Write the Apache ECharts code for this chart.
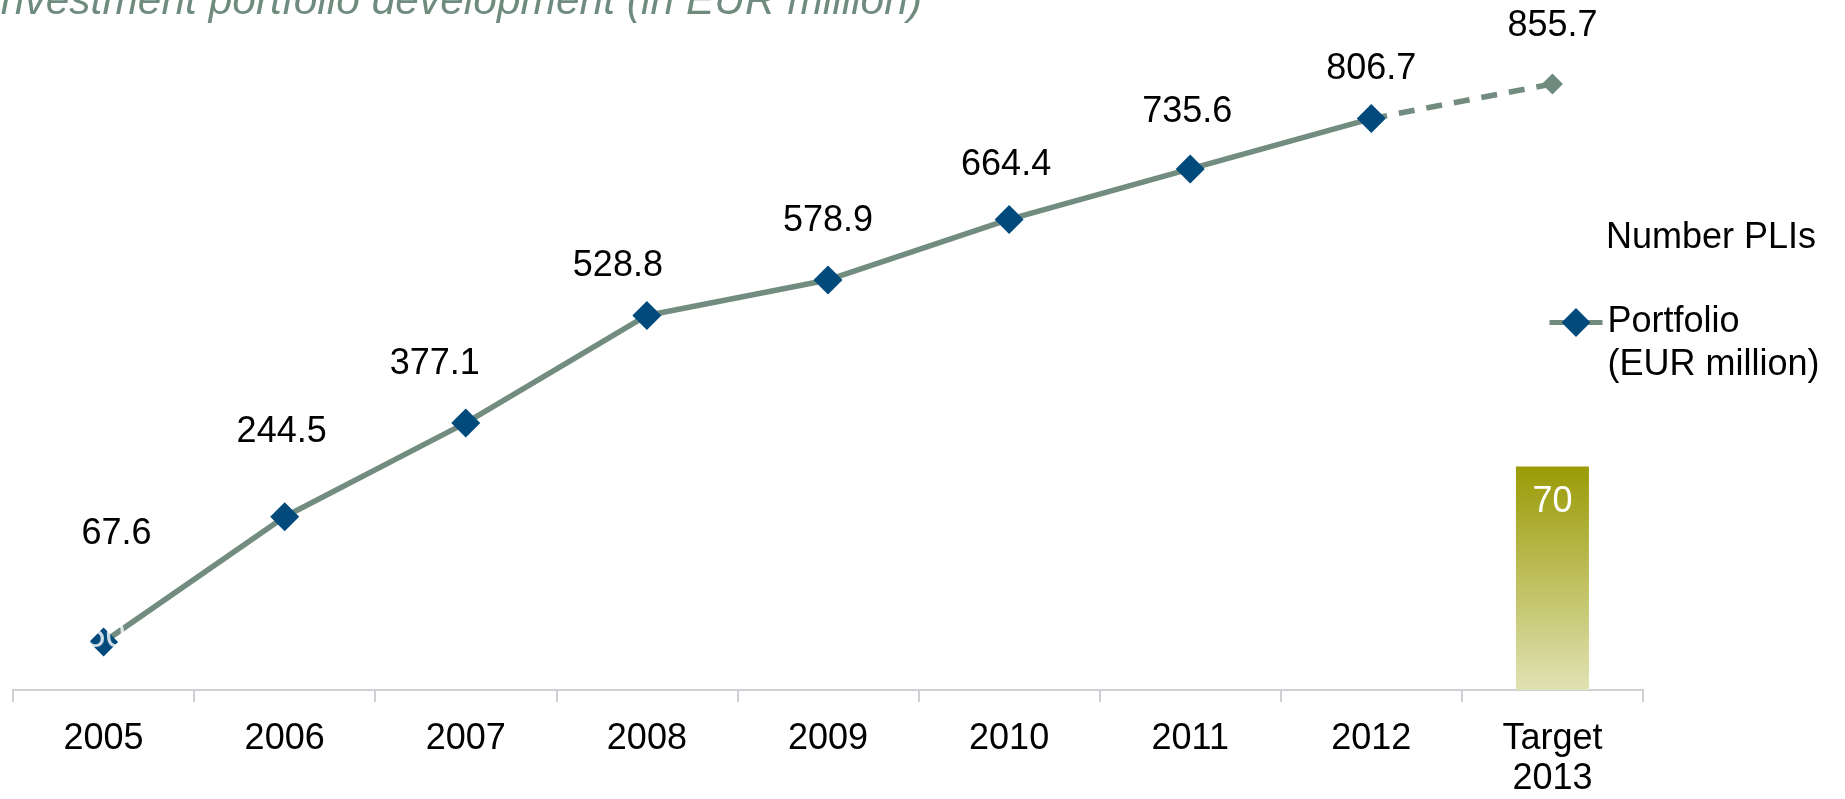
<!DOCTYPE html>
<html>
<head>
<meta charset="utf-8">
<script src="https://cdn.jsdelivr.net/npm/echarts@6/dist/echarts.min.js"></script>
<style>
  html, body { margin: 0; padding: 0; background: #fff; }
  #chart { width: 1845px; height: 799px; }
</style>
</head>
<body>
<div id="chart"></div>
<script>
// categories and values
var years = ['2005', '2006', '2007', '2008', '2009', '2010', '2011', '2012', 'Target\n2013']
var portfolio = [67.6, 244.5, 377.1, 528.8, 578.9, 664.4, 735.6, 806.7, 855.7]
var plis = [50, null, null, null, null, null, null, null, 70]

// label nudges (px) so the numbers sit where the original puts them
var labelShift = [[13, -108], [-3, -85], [-31, -59], [-29, -49], [0, -59], [-3, -54], [-3, -57], [0, -50], [0, -58]]

var FONT = "'Liberation Sans', Arial, sans-serif"
var lineColor = '#728c80'
var markColor = '#004a7c'
var last = years.length - 1

// solid part 2005-2012
var solidData = portfolio.map(function (v, i) {
  if (i === last) return '-'
  return { value: v, label: { offset: labelShift[i] } }
})
// dashed part 2012 -> target
var dashData = portfolio.map(function (v, i) {
  if (i < last - 1) return '-'
  if (i === last - 1) return { value: v, symbol: 'none', label: { show: false } }
  return { value: v, label: { offset: labelShift[i] } }
})
var barData = plis.map(function (v, i) {
  return i === last ? v : '-'
})
// the stray white "50" that sits on the first marker
var strayData = portfolio.map(function (v, i) {
  return i === 0 ? v : '-'
})

var option = {
  animation: false,
  title: {
    text: 'Investment portfolio development (in EUR million)',
    left: -11,
    top: -19,
    padding: 0,
    textStyle: {
      fontFamily: FONT,
      fontStyle: 'italic',
      fontWeight: 'normal',
      fontSize: 42.5,
      color: '#6f8b7e'
    }
  },
  legend: [
    {
      data: ['Number PLIs'],
      left: 1601,
      top: 220,
      padding: 0,
      itemWidth: 0,
      itemHeight: 24,
      selectedMode: false,
      textStyle: { fontFamily: FONT, fontSize: 36, color: '#000' }
    },
    {
      data: ['Portfolio (EUR million)'],
      left: 1547,
      top: 258,
      padding: 0,
      itemWidth: 53,
      itemHeight: 36,
      selectedMode: false,
      lineStyle: { width: 5 },
      // blank first line keeps the icon level with "Portfolio"
      formatter: function () { return ' \nPortfolio\n(EUR million)' },
      textStyle: { fontFamily: FONT, fontSize: 36, color: '#000', lineHeight: 43 }
    }
  ],
  grid: { left: 13, right: 202, top: 10, bottom: 108 },
  xAxis: {
    type: 'category',
    data: years,
    boundaryGap: true,
    axisLine: { lineStyle: { color: '#cdd0d4', width: 2 } },
    axisTick: { show: true, length: 12, interval: 0, lineStyle: { color: '#cdd0d4', width: 2 } },
    axisLabel: {
      interval: 0,
      margin: 29,
      fontFamily: FONT,
      fontSize: 36,
      lineHeight: 40,
      color: '#000'
    },
    splitLine: { show: false }
  },
  yAxis: [
    { type: 'value', min: 0, max: 960, show: false, splitLine: { show: false } },
    { type: 'value', min: 0, max: 213, show: false, splitLine: { show: false } }
  ],
  series: [
    {
      name: 'Number PLIs',
      type: 'bar',
      yAxisIndex: 1,
      data: barData,
      barWidth: 73,
      itemStyle: {
        color: new echarts.graphic.LinearGradient(0, 0, 0, 1, [
          { offset: 0, color: '#9a9b05' },
          { offset: 1, color: '#e1e2b3' }
        ])
      },
      label: {
        show: true,
        position: 'insideTop',
        distance: 18,
        fontFamily: FONT,
        fontSize: 36,
        color: '#fff'
      },
      z: 1
    },
    {
      name: 'Portfolio target',
      type: 'line',
      data: dashData,
      symbol: 'diamond',
      symbolSize: 21,
      itemStyle: { color: '#6f8b7e' },
      lineStyle: { color: lineColor, width: 5.5, type: [16, 12] },
      label: {
        show: true,
        position: 'inside',
        fontFamily: FONT,
        fontSize: 36,
        color: '#000'
      },
      z: 2
    },
    {
      name: 'Portfolio (EUR million)',
      type: 'line',
      data: solidData,
      symbol: 'diamond',
      symbolSize: 29,
      itemStyle: { color: markColor },
      lineStyle: { color: lineColor, width: 5.5 },
      label: {
        show: true,
        position: 'inside',
        fontFamily: FONT,
        fontSize: 36,
        color: '#000'
      },
      z: 3
    },
    {
      name: 'stray',
      type: 'scatter',
      data: strayData,
      symbolSize: 0,
      silent: true,
      label: {
        show: true,
        position: 'inside',
        offset: [2, -5],
        formatter: function () { return String(plis[0]) },
        fontFamily: FONT,
        fontSize: 36,
        color: '#fff'
      },
      z: 5
    }
  ]
}

var chart = echarts.init(document.getElementById('chart'))
chart.setOption(option)
window.addEventListener('resize', function () {
  chart.resize()
})
</script>
</body>
</html>
